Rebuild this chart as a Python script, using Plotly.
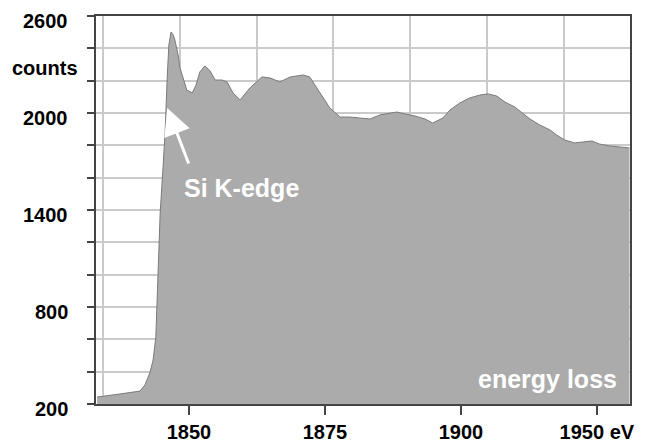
import plotly.graph_objects as go

# EELS spectrum (energy loss in eV, counts)
energia = [1833.1, 1834.2, 1837.3, 1841.0, 1841.9, 1842.8, 1843.4, 1843.9, 1844.1,
           1844.3, 1844.7, 1845.2, 1845.6, 1846.0, 1846.3, 1846.7, 1847.1, 1847.4,
           1848.0, 1848.3, 1849.1, 1849.6, 1850.6, 1851.3, 1852.0, 1852.9, 1853.9,
           1854.8, 1856.1, 1857.0, 1858.1, 1859.4, 1861.2, 1863.4, 1864.9, 1866.7,
           1868.6, 1871.0, 1872.2, 1874.1, 1875.9, 1877.8, 1879.6, 1881.4, 1883.3,
           1885.1, 1886.9, 1888.2, 1889.7, 1891.5, 1893.4, 1894.8, 1896.7, 1898.0,
           1899.8, 1901.6, 1903.5, 1905.0, 1906.6, 1908.1, 1909.9, 1911.2, 1912.7,
           1914.5, 1916.4, 1917.6, 1919.1, 1920.9, 1922.8, 1924.1, 1925.5, 1927.4,
           1929.2, 1931.0]
contagens = [243, 249, 262, 280, 318, 392, 472, 614, 825,
             1072, 1382, 1648, 1876, 2223, 2421, 2501, 2483, 2452,
             2359, 2285, 2192, 2142, 2124, 2173, 2254, 2291, 2260,
             2204, 2204, 2192, 2124, 2081, 2155, 2223, 2217, 2192,
             2223, 2235, 2223, 2124, 2031, 1975, 1975, 1969, 1963,
             1988, 2000, 2006, 1994, 1982, 1963, 1938, 1969, 2019,
             2062, 2093, 2111, 2118, 2105, 2068, 2037, 2000, 1963,
             1926, 1895, 1864, 1833, 1815, 1821, 1827, 1808, 1796,
             1790, 1784]

# tick labels as printed on the original figure
x_ticks = [1850, 1875, 1900, 1925]
x_labels = ['1850', '1875', '1900', '1950 eV']
y_ticks = [200, 800, 1400, 2000, 2600]
y_labels = ['200', '800', '1400', '2000', '2600']

familia = 'Liberation Sans, Arial, sans-serif'
fonte = dict(family=familia, size=20, color='black', weight='bold')
fonte_branca = dict(family=familia, size=25, color='white', weight='bold')
grade = '#cacaca'
moldura = '#444444'
faixa_x = [1832.9, 1931.1]

espectro = go.Scatter(
    x=energia,
    y=contagens,
    mode='lines',
    fill='tozeroy',
    fillcolor='#ababab',
    line=dict(color='#7a7a7a', width=1),
    showlegend=False,
    hoverinfo='skip'
)

# same data on the overlay axis, invisible, only so that the labelled axis is drawn
apoio = go.Scatter(
    x=energia,
    y=contagens,
    xaxis='x2',
    mode='lines',
    line=dict(width=0),
    opacity=0,
    showlegend=False,
    hoverinfo='skip'
)

# y labels sit a little below their ticks in the original, so they are annotations
rotulos_y = [
    dict(text=t, xref='paper', yref='y', x=-0.049, y=v, yshift=-5,
         xanchor='right', yanchor='middle', showarrow=False, font=fonte)
    for v, t in zip(y_ticks, y_labels)
]

# the page body adds 8px around the figure, so the figure is 8px smaller here
layout = go.Layout(
    width=646,
    height=435,
    margin=dict(l=88, r=24, t=8, b=39, autoexpand=False),
    paper_bgcolor='white',
    plot_bgcolor='white',
    xaxis=dict(
        range=faixa_x,
        tickmode='linear', tick0=1834.2, dtick=14.12,
        showgrid=True, gridcolor=grade, gridwidth=2,
        showticklabels=False, ticks='',
        showline=True, linecolor=moldura, linewidth=2, mirror=True,
        zeroline=False
    ),
    xaxis2=dict(
        overlaying='x', anchor='y', side='bottom',
        range=faixa_x,
        tickmode='array', tickvals=x_ticks, ticktext=x_labels,
        ticks='outside', ticklen=10, tickwidth=2, tickcolor=moldura,
        showgrid=False, zeroline=False, showline=False,
        tickfont=fonte, ticklabeloverflow='allow'
    ),
    yaxis=dict(
        range=[200, 2600],
        tickmode='linear', tick0=200, dtick=600,
        ticks='outside', ticklen=7, tickwidth=2, tickcolor=moldura,
        showgrid=True, gridcolor=grade, gridwidth=2,
        minor=dict(tickmode='linear', tick0=200, dtick=200, ticks='outside',
                   ticklen=7, tickwidth=2, tickcolor=moldura,
                   showgrid=True, gridcolor=grade, gridwidth=2),
        showline=True, linecolor=moldura, linewidth=2, mirror=True,
        zeroline=False,
        showticklabels=False
    ),
    annotations=rotulos_y + [
        dict(text='counts', xref='paper', yref='y', x=-0.03, y=2278,
             xanchor='right', yanchor='middle', showarrow=False, font=fonte),
        dict(text='Si K-edge', xref='x', yref='y', x=1859.6, y=1536,
             xanchor='center', yanchor='middle', showarrow=False,
             font=fonte_branca),
        dict(text='', xref='x', yref='y', x=1846.0, y=2031, ax=22, ay=57,
             showarrow=True, arrowhead=2, arrowsize=1.8, arrowwidth=3,
             arrowcolor='white'),
        dict(text='energy loss', xref='paper', yref='paper', x=0.979, y=0.064,
             xanchor='right', yanchor='middle', showarrow=False,
             font=fonte_branca),
    ]
)

fig = go.Figure(data=[espectro, apoio], layout=layout)
fig.write_html("out.html")
